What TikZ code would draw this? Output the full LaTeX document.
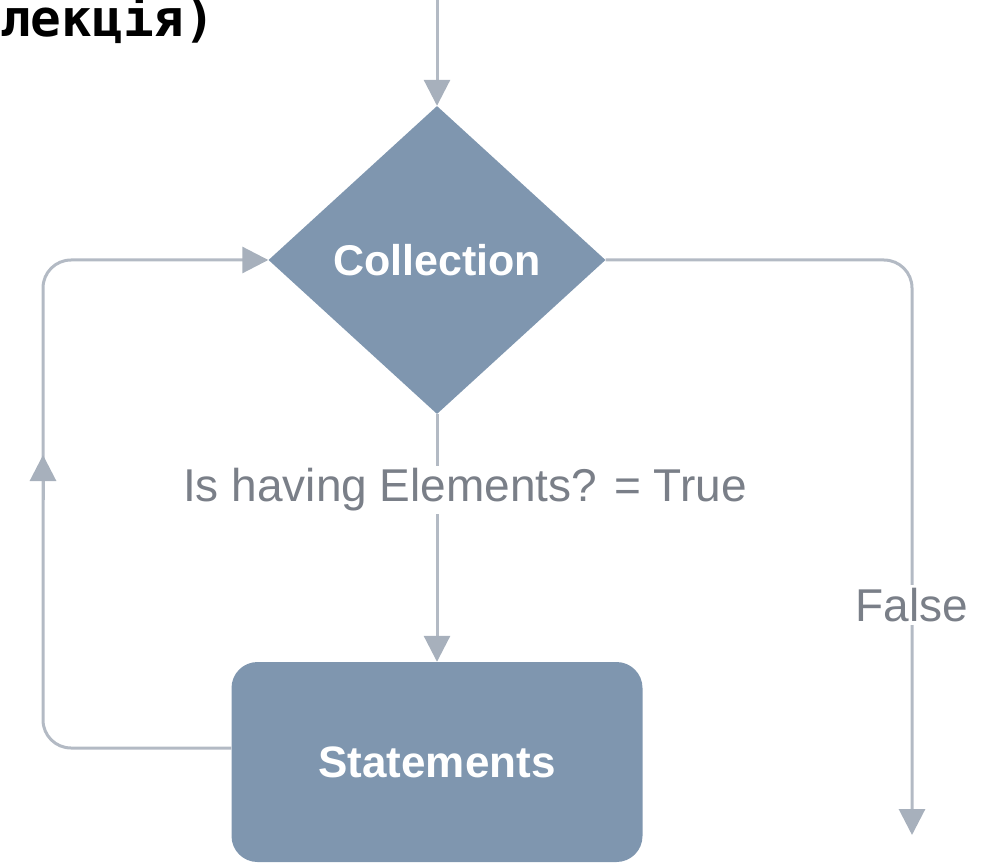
\documentclass[tikz,border=0pt]{standalone}
\usepackage{fontspec}
\setmainfont{Liberation Sans}
\newfontfamily\codefont{DejaVu Sans Mono}
\usetikzlibrary{shapes.geometric,arrows.meta}

\definecolor{boxfill}{HTML}{7F96AF}
\definecolor{wire}{HTML}{B3BAC4}
\definecolor{tipgrey}{HTML}{A7B0BC}
\definecolor{labelgrey}{HTML}{7A7F88}

\tikzset{
  flow/.style={draw=wire, line width=3pt, rounded corners=28pt,
    -{Triangle[width=26pt,length=26pt,color=tipgrey]}},
  decision/.style={diamond, fill=boxfill, draw=none, inner sep=0pt,
    minimum width=337pt, minimum height=308pt, text=white,
    font=\fontsize{43}{48}\selectfont\bfseries},
  process/.style={rectangle, rounded corners=26pt, fill=boxfill, draw=none,
    minimum width=411pt, minimum height=200pt, text=white,
    font=\fontsize{44}{48}\selectfont\bfseries},
  edgelabel/.style={fill=white, text=labelgrey, inner sep=3pt,
    font=\fontsize{46}{50}\selectfont}
}

\begin{document}
\begin{tikzpicture}[x=1pt,y=-1pt]
  \useasboundingbox (0,0) rectangle (987,866);

  % heading fragment at the top left
  \node[anchor=base west, inner sep=0pt, font=\codefont\bfseries\fontsize{51}{55}\selectfont]
    (head) at (0,37) {лекція)};

  % shapes
  \node[decision] (coll) at (437,260) {Collection};
  \node[process] (stmt) at (437,762) {Statements};

  % entry
  \coordinate (entry) at (437,0);
  \draw[flow] (entry) -- (coll.north);

  % true branch into the body
  \draw[flow] (coll.south) -- (stmt.north);
  \node[edgelabel] (truelbl) at (465,490) {Is having Elements? = True};

  % loop back from the body to the collection test
  \coordinate (lb) at (43,748);
  \draw[flow] ([yshift=14pt]stmt.west) -- (lb) -- (lb |- coll.west) -- (coll.west);
  \coordinate (midfrom) at (43,500);
  \coordinate (midto) at (43,455);
  \draw[draw=wire, line width=3pt, -{Triangle[width=26pt,length=26pt,color=tipgrey]}]
    (midfrom) -- (midto);

  % false branch: exit
  \coordinate (exit) at (912,835);
  \draw[flow] (coll.east) -- (coll.east -| exit) -- (exit);
  \node[edgelabel] (falselbl) at (912,605) {False};
\end{tikzpicture}
\end{document}
